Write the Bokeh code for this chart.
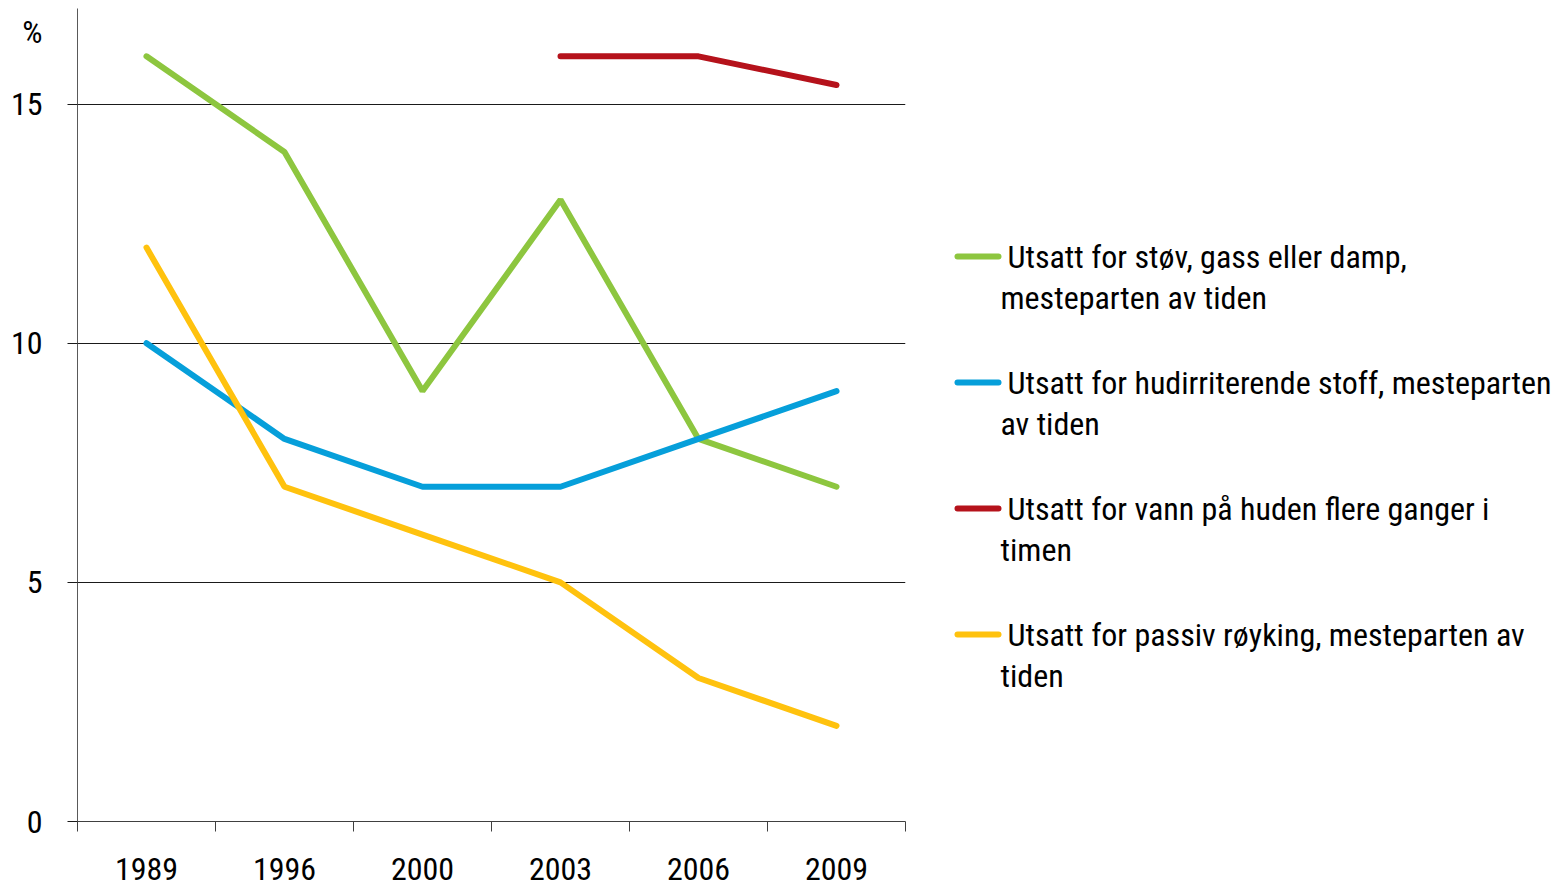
import math
from bokeh.plotting import figure
from bokeh.models import FactorRange, Range1d, LinearAxis, FixedTicker
from bokeh.layouts import row
from bokeh.embed import file_html
from bokeh.resources import INLINE
from bokeh.core.properties import value

years = ["1989", "1996", "2000", "2003", "2006", "2009"]
stov = [16, 14, 9, 13, 8, 7]
hud = [10, 8, 7, 7, 8, 9]
vann = [math.nan, math.nan, math.nan, 16, 16, 15.4]
royk = [12, 7, 6, 5, 3, 2]
series = [stov, hud, vann, royk]
labels = [
    "Utsatt for støv, gass eller damp,\nmesteparten av tiden",
    "Utsatt for hudirriterende stoff, mesteparten\nav tiden",
    "Utsatt for vann på huden flere ganger i\ntimen",
    "Utsatt for passiv røyking, mesteparten av\ntiden",
]
colors = ["#8dc63f", "#069fda", "#b5121b", "#ffc20e"]
y_ticks = [0, 5, 10, 15]
unit_label = "%"
unit_pos = 16.5

FONT = "Roboto Condensed, Liberation Sans Narrow, Arial Narrow, Liberation Sans"
FS = "32px"

p = figure(width=907, height=889, x_range=FactorRange(*years), y_range=Range1d(0, 17),
           output_backend="svg", toolbar_location=None, x_axis_type=None,
           min_border_left=77, min_border_right=2, min_border_top=8, min_border_bottom=68)
p.outline_line_color = None
p.xgrid.visible = False
p.ygrid.ticker = FixedTicker(ticks=[t for t in y_ticks if t > 0])
p.ygrid.grid_line_color = "#1a1a1a"
p.ygrid.grid_line_width = 1

ya = p.yaxis[0]
ya.ticker = FixedTicker(ticks=y_ticks + [unit_pos], minor_ticks=y_ticks)
ya.major_label_overrides = {unit_pos: unit_label}
ya.major_tick_out = 0
ya.major_tick_in = 0
ya.minor_tick_out = 10
ya.minor_tick_in = 0
ya.axis_line_color = "#595959"
ya.minor_tick_line_color = "#1a1a1a"
ya.major_label_standoff = 25
ya.major_label_text_font = FONT
ya.major_label_text_font_size = FS
ya.major_label_text_color = "#000000"

centers = [i + 0.5 for i in range(len(years))]
xa = LinearAxis(ticker=FixedTicker(ticks=centers, minor_ticks=list(range(len(years) + 1))))
xa.major_label_overrides = {c: y for c, y in zip(centers, years)}
xa.major_tick_out = 0
xa.major_tick_in = 0
xa.minor_tick_out = 10
xa.minor_tick_in = 0
xa.minor_tick_line_color = "#404040"
xa.axis_line_color = "#404040"
xa.major_label_standoff = 26
xa.major_label_text_font = FONT
xa.major_label_text_font_size = FS
xa.major_label_text_color = "#000000"
p.add_layout(xa, "below")

for vals, c in zip(series, colors):
    p.line(years, vals, line_width=6, color=c, line_cap="round")

# legend panel: ranges expressed in page pixels
lg = figure(width=646, height=889, x_range=Range1d(907, 1553), y_range=Range1d(821, 8),
            output_backend="svg", toolbar_location=None, x_axis_type=None, y_axis_type=None,
            min_border=0)
lg.outline_line_color = None
lg.grid.visible = False

for i, (lab, c) in enumerate(zip(labels, colors)):
    yc = 256 + 126 * i
    lg.line([957, 998], [yc, yc], line_width=6, color=c, line_cap="round")
    l1, l2 = lab.split("\n")
    lg.text([1007], [yc], text=[l1], text_font=value(FONT), text_font_size=FS,
            text_baseline="middle", text_color="#000000")
    lg.text([1000], [yc + 41], text=[l2], text_font=value(FONT), text_font_size=FS,
            text_baseline="middle", text_color="#000000")

layout = row(p, lg)
open("out.html", "w").write(file_html(layout, INLINE))
